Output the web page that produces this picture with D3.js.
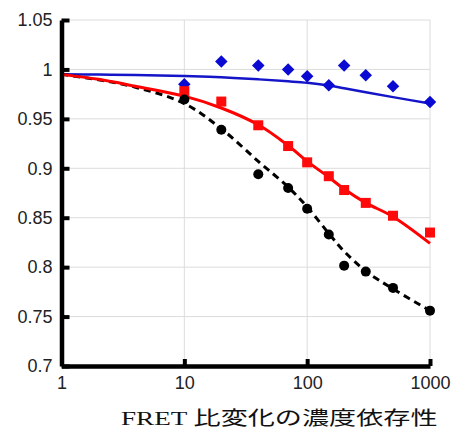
<!DOCTYPE html>
<html>
<head>
<meta charset="utf-8">
<script src="https://cdn.jsdelivr.net/npm/d3@7"></script>
<style>
body{margin:0;background:#fff;}
svg{display:block;}
</style>
</head>
<body>
<div id="chart"></div>
<script>
var xTicks = [1, 10, 100, 1000];
var yTicks = [0.7, 0.75, 0.8, 0.85, 0.9, 0.95, 1, 1.05];
var conc = [10, 20, 40, 70, 100, 150, 200, 300, 500, 1000];

// measured points
var blueVals = [0.985, 1.008, 1.004, 1.000, 0.993, 0.984, 1.004, 0.994, 0.983, 0.967];
var redVals = [0.978, 0.9675, 0.9435, 0.9225, 0.906, 0.892, 0.878, 0.865, 0.852, 0.835];
var blackVals = [0.9695, 0.939, 0.894, 0.880, 0.859, 0.833, 0.8015, 0.7955, 0.779, 0.756];

// fitted curves
var fitX = [1, 2, 4, 10, 20, 40, 70, 100, 150, 200, 300, 500, 1000];
var blueFit = [0.995, 0.9948, 0.9943, 0.9933, 0.992, 0.990, 0.988, 0.9865, 0.9837, 0.981, 0.977, 0.972, 0.9655];
var redFit = [0.995, 0.990, 0.983, 0.973, 0.961, 0.944, 0.923, 0.907, 0.891, 0.879, 0.865, 0.851, 0.824];
var blackFit = [0.995, 0.9895, 0.982, 0.9655, 0.940, 0.907, 0.881, 0.861, 0.834, 0.816, 0.796, 0.778, 0.756];

var W = 453, H = 438;
var svg = d3.select('#chart').append('svg').attr('width', W).attr('height', H);

var x = d3.scaleLog().domain([1, 1000]).range([61.5, 430]);
var y = d3.scaleLinear().domain([0.7, 1.05]).range([366, 20]);

// grid
var grid = svg.append('g').attr('stroke', '#dcdcdc').attr('stroke-width', 1);
grid.selectAll('line.h').data(yTicks.slice(1)).enter().append('line')
	.attr('x1', x(1)).attr('x2', x(1000))
	.attr('y1', function(d){return y(d);}).attr('y2', function(d){return y(d);});
grid.selectAll('line.v').data(xTicks.slice(1)).enter().append('line')
	.attr('x1', function(d){return x(d);}).attr('x2', function(d){return x(d);})
	.attr('y1', y(1.05)).attr('y2', y(0.7));

// fitted lines
function fitLine(vals){
	return d3.line()
		.x(function(d, i){return x(fitX[i]);})
		.y(function(d){return y(d);})
		.curve(d3.curveCatmullRom.alpha(0.5))(vals);
}
svg.append('path').attr('d', fitLine(blueFit)).attr('fill', 'none')
	.attr('stroke', '#1414c8').attr('stroke-width', 2.5);
svg.append('path').attr('d', fitLine(blackFit)).attr('fill', 'none')
	.attr('stroke', '#000').attr('stroke-width', 3).attr('stroke-dasharray', '7,5');
svg.append('path').attr('d', fitLine(redFit)).attr('fill', 'none')
	.attr('stroke', '#ff0000').attr('stroke-width', 3);

// markers
var diamond = d3.symbol().type(d3.symbolDiamond2).size(100);
svg.append('g').selectAll('path').data(blueVals).enter().append('path')
	.attr('d', diamond)
	.attr('transform', function(d, i){return 'translate('+x(conc[i])+','+y(d)+')';})
	.attr('fill', '#0a0ad2');
svg.append('g').selectAll('rect').data(redVals).enter().append('rect')
	.attr('x', function(d, i){return x(conc[i])-5;})
	.attr('y', function(d){return y(d)-5;})
	.attr('width', 10).attr('height', 10)
	.attr('fill', '#ff0a0a');
svg.append('g').selectAll('circle').data(blackVals).enter().append('circle')
	.attr('cx', function(d, i){return x(conc[i]);})
	.attr('cy', function(d){return y(d);})
	.attr('r', 5)
	.attr('fill', '#000');

// axes
var yAxis = d3.axisLeft(y).tickValues(yTicks)
	.tickFormat(function(d){return String(+d.toFixed(2));})
	.tickSizeInner(-8).tickSizeOuter(0).tickPadding(9);
var xAxis = d3.axisBottom(x).tickValues(xTicks)
	.tickFormat(d3.format('d'))
	.tickSizeInner(-7).tickSizeOuter(0).tickPadding(10);

var gy = svg.append('g').attr('transform', 'translate('+x(1)+',0)').call(yAxis);
var gx = svg.append('g').attr('transform', 'translate(0,'+y(0.7)+')').call(xAxis);

[gy, gx].forEach(function(g){
	g.select('.domain').attr('stroke', '#000').attr('stroke-width', 4.5);
	g.selectAll('.tick line').attr('stroke', '#000').attr('stroke-width', 4);
	g.selectAll('.tick text')
		.attr('fill', '#222')
		.attr('font-family', '"Liberation Sans", Arial, sans-serif')
		.attr('font-size', 18);
});
gx.selectAll('.tick').filter(function(d){return d==1;}).select('line').remove();

// caption
var cap = svg.append('g').attr('transform', 'translate(121,425) scale(1.39,1)');
var t = cap.append('text').attr('x', 0).attr('y', 0).attr('fill', '#111').attr('font-size', 19.5);
t.append('tspan').attr('font-family', '"Liberation Serif", "Times New Roman", serif').text('FRET ');
t.append('tspan').attr('font-family', '"Noto Sans CJK JP", sans-serif').text('比変化の濃度依存性');
</script>
</body>
</html>
